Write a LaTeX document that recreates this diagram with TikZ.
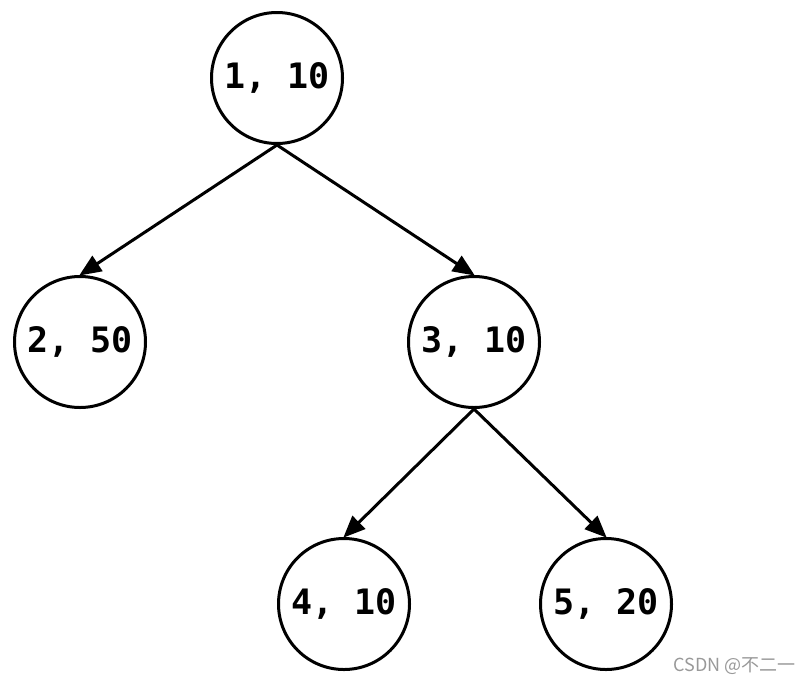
\documentclass[tikz,border=0pt]{standalone}
\usepackage{fontspec}
\setmonofont{DejaVu Sans Mono}
\newfontfamily\cjk{Noto Sans CJK SC}
\usetikzlibrary{arrows.meta}
\begin{document}
\begin{tikzpicture}[x=1pt,y=-1pt,
  treenode/.style={circle,draw,line width=3pt,minimum size=131pt,inner sep=0pt,
    font=\fontsize{35}{35}\selectfont\ttfamily\bfseries},
  edge/.style={line width=3pt,-{Triangle[length=22pt,width=18pt]},shorten >=-1pt}]
\useasboundingbox (0,0) rectangle (810,683);
\node[treenode] (n1) at (277,78) {1, 10};
\node[treenode] (n2) at (80,342) {2, 50};
\node[treenode] (n3) at (474,342) {3, 10};
\node[treenode] (n4) at (344,604) {4, 10};
\node[treenode] (n5) at (606,604) {5, 20};
\draw[edge] (n1.south) -- (n2.north);
\draw[edge] (n1.south) -- (n3.north);
\draw[edge] (n3.south) -- (n4.north);
\draw[edge] (n3.south) -- (n5.north);
\node[text=gray!80,font=\cjk\fontsize{18}{18}\selectfont,anchor=east,inner sep=0pt] (wm) at (796,666) {CSDN @不二一};
\end{tikzpicture}
\end{document}
